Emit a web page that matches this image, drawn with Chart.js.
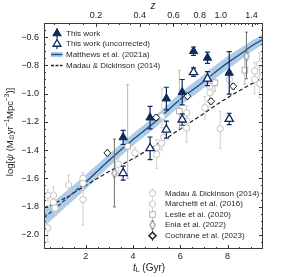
<!DOCTYPE html>
<html>
<head>
<meta charset="utf-8">
<script src="https://cdn.jsdelivr.net/npm/chart.js@4.4.0/dist/chart.umd.min.js"></script>
<style>
  html, body { margin: 0; padding: 0; background: #fff; }
</style>
</head>
<body>
<canvas id="sfrd" width="281" height="277"></canvas>
<script>
// values: lookback time (Gyr) and log SFRD
const thisWorkT = [3.58, 4.72, 5.41, 6.08, 6.56, 7.15, 8.07];
const thisWorkY = [-1.31, -1.17, -1.035, -0.99, -0.70, -0.746, -0.853];
const thisWorkErr = [0.05, 0.08, 0.08, 0.09, 0.03, 0.04, 0.15];
const uncorrY = [-1.563, -1.387, -1.255, -1.184, -0.848, -0.894, -1.179];
const uncorrErr = [0.05, 0.08, 0.06, 0.04, 0.03, 0.05, 0.04];

const matthewsT = [0.23, 1, 2, 3, 4, 5, 6, 6.83, 7.5, 8.1, 8.5, 9.0, 9.5];
const matthewsY = [-1.88, -1.77, -1.625, -1.47, -1.325, -1.19, -1.04, -0.935, -0.845, -0.77, -0.725, -0.665, -0.615];
const matthewsLo = [-1.94, -1.825, -1.675, -1.515, -1.367, -1.232, -1.085, -0.982, -0.892, -0.815, -0.767, -0.703, -0.65];
const matthewsHi = [-1.82, -1.715, -1.575, -1.425, -1.283, -1.148, -0.995, -0.888, -0.798, -0.725, -0.683, -0.627, -0.58];

const mdCurveT = [0.23, 1, 2, 3, 4, 5, 6, 7, 7.7, 8.5, 9.3, 9.5];
const mdCurveY = [-1.81, -1.75, -1.65, -1.55, -1.46, -1.36, -1.25, -1.14, -1.06, -0.98, -0.905, -0.89];

const mdT = [0.39, 0.39, 0.63, 0.70, 1.88, 1.88, 1.88, 3.38, 4.08, 5.00, 5.00, 5.21, 5.30, 6.27, 6.27, 6.27, 7.04, 7.25, 7.25, 7.69, 8.08, 9.15, 9.15, 9.36, 9.36];
const mdY = [-1.72, -1.95, -1.77, -1.81, -1.60, -1.635, -1.75, -1.50, -1.42, -1.385, -1.43, -1.35, -1.31, -1.136, -1.196, -1.243, -1.10, -0.948, -0.994, -1.248, -0.90, -0.84, -0.90, -0.79, -0.93];
const mdLo = [0.04, 0.10, 0.05, 0.05, 0.04, 0.05, 0.18, 0.08, 0.04, 0.06, 0.10, 0.05, 0.05, 0.05, 0.06, 0.10, 0.08, 0.12, 0.10, 0.14, 0.10, 0.06, 0.10, 0.08, 0.10];
const mdHi = [0.04, 0.06, 0.05, 0.05, 0.04, 0.05, 0.10, 0.05, 0.04, 0.06, 0.05, 0.05, 0.05, 0.05, 0.06, 0.08, 0.08, 0.12, 0.08, 0.12, 0.10, 0.06, 0.08, 0.08, 0.10];

const marchettiT = [0.63, 1.27, 5.22];
const marchettiY = [-1.72, -1.647, -1.16];
const marchettiLo = [0.03, 0.07, 0.08];
const marchettiHi = [0.06, 0.07, 0.20];

const leslieT = [3.77, 5.96, 7.46, 8.73];
const leslieY = [-1.373, -1.125, -0.923, -0.834];
const leslieLo = [0.227, 0.12, 0.06, 0.10];
const leslieHi = [0.437, 0.29, 0.06, 0.10];

const eniaT = [3.21, 8.8];
const eniaY = [-1.562, -0.735];
const eniaLo = [0.24, 0.16];
const eniaHi = [0.24, 0.17];

const cochraneT = [2.91, 4.98, 6.3, 7.3, 8.24];
const cochraneY = [-1.42, -1.169, -1.018, -1.054, -0.948];
const cochraneErr = [0.02, 0.02, 0.02, 0.02, 0.02];

const yTicks = [-2.0, -1.8, -1.6, -1.4, -1.2, -1.0, -0.8, -0.6];
const xTicks = [2, 4, 6, 8];
const zTicks = [0.2, 0.4, 0.6, 0.8, 1.0, 1.4];
const zLabels = ['0.2', '0.4', '0.6', '0.8', '1.0', '1.4'];

const NAVY = '#0c2b5e';
const FONT = '"Liberation Sans", Arial, sans-serif';

// lookback time for the top axis, flat LCDM H0=70, Om=0.3
function lookback(z) {
  const n = 200;
  let s = 0;
  for (let i = 0; i < n; i++) {
    const zz = (i + 0.5) * z / n;
    s += 1 / ((1 + zz) * Math.sqrt(0.3 * Math.pow(1 + zz, 3) + 0.7));
  }
  return 977.8 / 70 * s * z / n;
}

const pts = (t, y) => t.map((v, i) => ({ x: v, y: y[i] }));

function shapeCanvas(w, h, draw) {
  const c = document.createElement('canvas');
  c.width = w; c.height = h;
  draw(c.getContext('2d'), w, h);
  return c;
}
const thinDiamond = shapeCanvas(8, 12, (g, w, h) => {
  g.beginPath();
  g.moveTo(w / 2, 1); g.lineTo(w - 1.5, h / 2); g.lineTo(w / 2, h - 1); g.lineTo(1.5, h / 2);
  g.closePath();
  g.fillStyle = '#fff'; g.fill();
  g.strokeStyle = '#6e6e6e'; g.lineWidth = 1; g.stroke();
});
const hexagon = shapeCanvas(9, 9, (g) => {
  g.beginPath();
  for (let k = 0; k < 6; k++) {
    const a = Math.PI / 6 + k * Math.PI / 3;
    const px = 4.5 + 3.4 * Math.cos(a), py = 4.5 + 3.4 * Math.sin(a);
    k ? g.lineTo(px, py) : g.moveTo(px, py);
  }
  g.closePath();
  g.fillStyle = '#fff'; g.fill();
  g.strokeStyle = '#c4c4c4'; g.lineWidth = 1; g.stroke();
});

const errorBars = {
  id: 'errorBars',
  beforeDatasetDraw(chart, args) {
    const ds = chart.data.datasets[args.index];
    if (!ds.errLo) return;
    const { ctx, chartArea: a } = chart;
    const xs = chart.scales.x, ys = chart.scales.y;
    ctx.save();
    ctx.beginPath(); ctx.rect(a.left, a.top, a.right - a.left, a.bottom - a.top); ctx.clip();
    ctx.strokeStyle = ds.errColor;
    ctx.lineWidth = ds.errWidth || 1;
    ds.data.forEach((p, i) => {
      const px = xs.getPixelForValue(p.x);
      const top = ys.getPixelForValue(p.y + ds.errHi[i]);
      const bot = ys.getPixelForValue(p.y - ds.errLo[i]);
      ctx.beginPath();
      ctx.moveTo(px, top); ctx.lineTo(px, bot);
      if (ds.cap) {
        ctx.moveTo(px - ds.cap, top); ctx.lineTo(px + ds.cap, top);
        ctx.moveTo(px - ds.cap, bot); ctx.lineTo(px + ds.cap, bot);
      }
      ctx.stroke();
    });
    ctx.restore();
  }
};

function richText(ctx, parts, x, y, size) {
  let w = 0;
  parts.forEach(p => {
    ctx.font = (p.it ? 'italic ' : '') + (p.s || size) + 'px ' + FONT;
    p.w = ctx.measureText(p.t).width;
    w += p.w;
  });
  let cx = x - w / 2;
  parts.forEach(p => {
    ctx.font = (p.it ? 'italic ' : '') + (p.s || size) + 'px ' + FONT;
    ctx.fillText(p.t, cx, y + (p.dy || 0));
    cx += p.w;
  });
}

const frameAndLabels = {
  id: 'frameAndLabels',
  afterDraw(chart) {
    const { ctx, chartArea: a } = chart;
    const xs = chart.scales.x, ys = chart.scales.y;
    ctx.save();
    ctx.strokeStyle = '#3a3a3a';
    ctx.lineWidth = 1;
    ctx.strokeRect(a.left + 0.5, a.top + 0.5, a.right - a.left - 1, a.bottom - a.top - 1);

    ctx.beginPath();
    // y ticks, left and right, pointing in
    for (let k = 0; k <= 32; k++) {
      const v = -2.1 + k * 0.05;
      const major = yTicks.some(t => Math.abs(t - v) < 1e-6);
      const L = major ? 4 : 2;
      const py = Math.round(ys.getPixelForValue(v)) + 0.5;
      if (py <= a.top + 1 || py >= a.bottom - 1) continue;
      ctx.moveTo(a.left, py); ctx.lineTo(a.left + L, py);
      ctx.moveTo(a.right, py); ctx.lineTo(a.right - L, py);
    }
    // bottom ticks (lookback time)
    for (let k = 1; k <= 19; k++) {
      const v = k * 0.5;
      const major = xTicks.includes(v);
      const L = major ? 4 : 2;
      const px = Math.round(xs.getPixelForValue(v)) + 0.5;
      if (px <= a.left + 1 || px >= a.right - 1) continue;
      ctx.moveTo(px, a.bottom); ctx.lineTo(px, a.bottom - L);
    }
    // top ticks (redshift)
    for (let k = 1; k <= 30; k++) {
      const z = k * 0.05;
      const major = zTicks.some(t => Math.abs(t - z) < 1e-6);
      const L = major ? 4 : 2;
      const px = Math.round(xs.getPixelForValue(lookback(z))) + 0.5;
      if (px <= a.left + 1 || px >= a.right - 1) continue;
      ctx.moveTo(px, a.top); ctx.lineTo(px, a.top + L);
    }
    ctx.stroke();

    // axis titles
    ctx.fillStyle = '#222';
    ctx.textBaseline = 'middle';
    ctx.textAlign = 'left';
    richText(ctx, [{ t: 'z', it: true }], 153, 6, 10);
    richText(ctx, [{ t: 't', it: true }, { t: 'L', s: 7, dy: 2 }, { t: ' (Gyr)' }], 149, 268, 10);
    ctx.save();
    ctx.translate(10, 132);
    ctx.rotate(-Math.PI / 2);
    richText(ctx, [
      { t: 'log[' }, { t: 'ψ', it: true }, { t: ' (M' }, { t: '⊙', s: 6.5, dy: 2 },
      { t: 'yr' }, { t: '−1', s: 6.5, dy: -3 }, { t: 'Mpc' }, { t: '−3', s: 6.5, dy: -3 }, { t: ')]' }
    ], 0, 0, 9.5);
    ctx.restore();

    // legends
    const draw = (opts, x, y) => Chart.helpers.drawPoint(ctx, opts, x, y);
    ctx.font = '8px ' + FONT;

    // upper-left legend
    const lx = 57, tx = 66, rows1 = [33.5, 44, 54.5, 65.5];
    ctx.strokeStyle = NAVY; ctx.lineWidth = 1.2;
    ctx.beginPath(); ctx.moveTo(lx, rows1[0] - 5); ctx.lineTo(lx, rows1[0] + 5); ctx.stroke();
    ctx.fillStyle = NAVY;
    draw({ pointStyle: 'triangle', radius: 4.5, borderWidth: 1 }, lx, rows1[0]);
    ctx.beginPath(); ctx.moveTo(lx, rows1[1] - 5); ctx.lineTo(lx, rows1[1] + 5); ctx.stroke();
    ctx.fillStyle = '#fff'; ctx.lineWidth = 1.3;
    draw({ pointStyle: 'triangle', radius: 4.5, borderWidth: 1.3 }, lx, rows1[1]);
    ctx.fillStyle = 'rgba(110,160,210,0.55)';
    ctx.fillRect(51, rows1[2] - 2.5, 11.5, 5);
    ctx.strokeStyle = '#1b4a86'; ctx.lineWidth = 1.3;
    ctx.beginPath(); ctx.moveTo(51, rows1[2]); ctx.lineTo(62.5, rows1[2]); ctx.stroke();
    ctx.strokeStyle = '#222'; ctx.setLineDash([3, 1.5]);
    ctx.beginPath(); ctx.moveTo(51, rows1[3]); ctx.lineTo(62.5, rows1[3]); ctx.stroke();
    ctx.setLineDash([]);
    ctx.fillStyle = '#2a2a2a';
    ['This work', 'This work (uncorrected)', 'Matthews et al. (2021a)', 'Madau & Dickinson (2014)']
      .forEach((s, i) => ctx.fillText(s, tx, rows1[i]));

    // lower-right legend
    const mx = 152.5, mtx = 165, rows2 = [193.3, 204, 214.5, 225, 235.7];
    const bars = ['#d0d0d0', '#d0d0d0', '#b8b8b8', '#808080', '#222'];
    rows2.forEach((y, i) => {
      ctx.strokeStyle = bars[i]; ctx.lineWidth = 1;
      ctx.beginPath(); ctx.moveTo(mx, y - 5); ctx.lineTo(mx, y + 5); ctx.stroke();
    });
    ctx.fillStyle = '#fff';
    ctx.strokeStyle = '#c4c4c4'; ctx.lineWidth = 1;
    draw({ pointStyle: 'circle', radius: 3.2, borderWidth: 1 }, mx, rows2[0]);
    draw({ pointStyle: hexagon }, mx, rows2[1]);
    ctx.strokeStyle = '#b0b0b0';
    draw({ pointStyle: 'rect', radius: 4, borderWidth: 1 }, mx, rows2[2]);
    draw({ pointStyle: thinDiamond }, mx, rows2[3]);
    ctx.strokeStyle = '#1e1e1e'; ctx.lineWidth = 1.5;
    draw({ pointStyle: 'rectRot', radius: 3.5, borderWidth: 1.5 }, mx, rows2[4]);
    ctx.fillStyle = '#2a2a2a';
    ['Madau & Dickinson (2014)', 'Marchetti et al. (2016)', 'Leslie et al. (2020)', 'Enia et al. (2022)', 'Cochrane et al. (2023)']
      .forEach((s, i) => ctx.fillText(s, mtx, rows2[i]));
    ctx.restore();
  }
};

const grayPts = (label, t, y, lo, hi, style, border, bar, radius, order) => ({
  label, data: pts(t, y), errLo: lo, errHi: hi, errColor: bar, cap: 1.5,
  pointStyle: style, pointRadius: radius, pointHoverRadius: radius,
  backgroundColor: '#fff', borderColor: border, borderWidth: 1, order
});

const datasets = [
  {
    label: 'This work', data: pts(thisWorkT, thisWorkY), errLo: thisWorkErr, errHi: thisWorkErr,
    errColor: NAVY, errWidth: 1.2, cap: 2.5, pointStyle: 'triangle', pointRadius: 4.8,
    backgroundColor: NAVY, borderColor: NAVY, borderWidth: 1, order: 0
  },
  {
    label: 'This work (uncorrected)', data: pts(thisWorkT, uncorrY), errLo: uncorrErr, errHi: uncorrErr,
    errColor: NAVY, errWidth: 1.2, cap: 2.5, pointStyle: 'triangle', pointRadius: 4.8,
    backgroundColor: '#fff', borderColor: NAVY, borderWidth: 1.3, order: 1
  },
  grayPts('Cochrane et al. (2023)', cochraneT, cochraneY, cochraneErr, cochraneErr, 'rectRot', '#1e1e1e', '#222', 3.5, 2),
  grayPts('Enia et al. (2022)', eniaT, eniaY, eniaLo, eniaHi, thinDiamond, '#6e6e6e', '#707070', 4, 3),
  grayPts('Leslie et al. (2020)', leslieT, leslieY, leslieLo, leslieHi, 'rect', '#b0b0b0', '#b8b8b8', 4, 4),
  grayPts('Marchetti et al. (2016)', marchettiT, marchettiY, marchettiLo, marchettiHi, hexagon, '#c4c4c4', '#d0d0d0', 4, 5),
  grayPts('Madau & Dickinson (2014)', mdT, mdY, mdLo, mdHi, 'circle', '#c4c4c4', '#d0d0d0', 3.2, 6),
  {
    type: 'line', label: 'Matthews et al. (2021a)', data: pts(matthewsT, matthewsY),
    borderColor: '#1b4a86', borderWidth: 1.3, pointRadius: 0, cubicInterpolationMode: 'monotone',
    segment: { borderDash: c => (c.p1.parsed.x <= 2 ? [4, 2] : undefined) }, order: 7
  },
  {
    type: 'line', label: 'MD14 fit', data: pts(mdCurveT, mdCurveY),
    borderColor: '#1a1a1a', borderWidth: 1.2, borderDash: [4, 2.5], pointRadius: 0,
    cubicInterpolationMode: 'monotone', order: 8
  },
  {
    type: 'line', label: 'band hi', data: pts(matthewsT, matthewsHi), borderWidth: 0,
    pointRadius: 0, cubicInterpolationMode: 'monotone', fill: '+1',
    backgroundColor: 'rgba(110,160,210,0.55)', order: 9
  },
  {
    type: 'line', label: 'band lo', data: pts(matthewsT, matthewsLo), borderWidth: 0,
    pointRadius: 0, cubicInterpolationMode: 'monotone', fill: false, order: 10
  }
];

const tickFont = { family: FONT, size: 9 };

new Chart(document.getElementById('sfrd'), {
  type: 'scatter',
  data: { datasets },
  options: {
    responsive: false,
    animation: false,
    events: [],
    layout: { padding: { left: 0, right: 18, top: 0, bottom: 0 } },
    plugins: { legend: { display: false }, tooltip: { enabled: false } },
    scales: {
      x: {
        type: 'linear', position: 'bottom', min: 0.23, max: 9.5,
        grid: { display: false, drawTicks: false }, border: { display: false },
        afterBuildTicks: s => { s.ticks = xTicks.map(v => ({ value: v })); },
        afterFit: s => { s.height = 28; },
        ticks: { font: tickFont, color: '#222', padding: 2, maxRotation: 0, autoSkip: false, callback: v => String(v) }
      },
      x2: {
        type: 'linear', position: 'top', min: 0.23, max: 9.5,
        grid: { display: false, drawTicks: false }, border: { display: false },
        afterBuildTicks: s => { s.ticks = zTicks.map(z => ({ value: lookback(z) })); },
        afterFit: s => { s.height = 23; },
        ticks: { font: tickFont, color: '#222', padding: 2, maxRotation: 0, autoSkip: false, callback: (v, i) => zLabels[i] }
      },
      y: {
        type: 'linear', position: 'left', min: -2.1, max: -0.5,
        grid: { display: false, drawTicks: false }, border: { display: false },
        afterBuildTicks: s => { s.ticks = yTicks.map(v => ({ value: v })); },
        afterFit: s => { s.width = 44; },
        ticks: { font: tickFont, color: '#222', padding: 5, callback: v => '−' + Math.abs(v).toFixed(1) }
      }
    }
  },
  plugins: [errorBars, frameAndLabels]
});
</script>
</body>
</html>
